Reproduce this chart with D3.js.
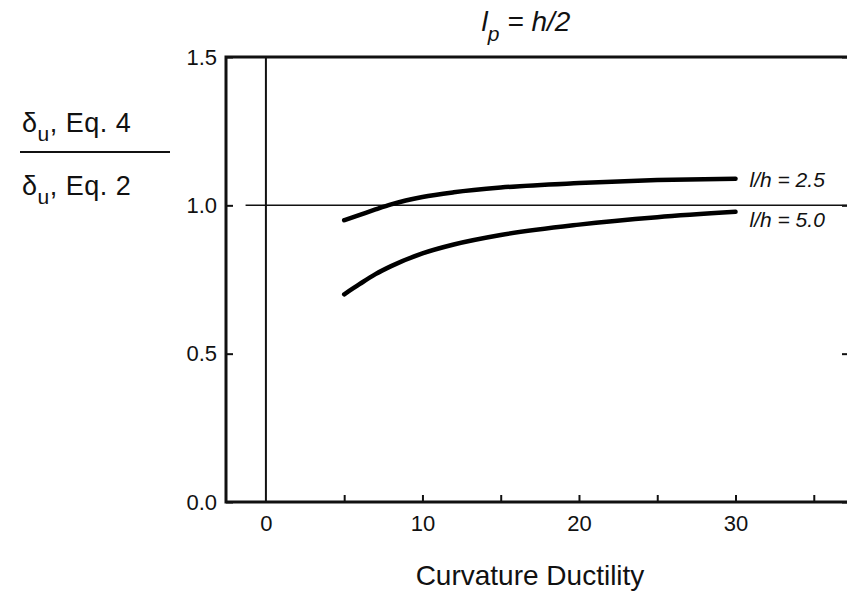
<!DOCTYPE html>
<meta charset="utf-8">
<title>Curvature ductility ratio</title>
<body>
<script src="https://cdn.jsdelivr.net/npm/d3@7"></script>
<style>
html, body {
    margin: 0;
    background: #fff;
}
svg {
    display: block;
    font-family: "Liberation Sans", Arial, sans-serif;
}
</style>
<svg></svg>
<script>
var ductility = [5, 6, 7, 8, 10, 12, 15, 20, 25, 30];
var ratioLh25 = [0.950, 0.968, 0.986, 1.003, 1.028, 1.044, 1.060, 1.075, 1.085, 1.090];
var ratioLh50 = [0.700, 0.735, 0.768, 0.795, 0.838, 0.868, 0.900, 0.935, 0.960, 0.978];
var seriesLabels = ["l/h = 2.5", "l/h = 5.0"];
var xTicks = [0, 5, 10, 15, 20, 25, 30, 35];
var yTicks = [0, 0.5, 1.0, 1.5];

var width = 847,
    height = 594,
    plotLeft = 226,
    plotRight = 849,
    plotTop = 57,
    plotBottom = 502;

var svg = d3.select("svg")
    .attr("width", width)
    .attr("height", height);

var x = d3.scaleLinear().domain([-2.55, 37.25]).range([plotLeft, plotRight]);
var y = d3.scaleLinear().domain([0, 1.5]).range([plotBottom, plotTop]);

function styleAxis(g) {
    g.attr("font-size", 22)
        .attr("font-family", "Liberation Sans, Arial, sans-serif");
    g.select(".domain").remove();
    g.selectAll(".tick line").attr("stroke", "#111").attr("stroke-width", 2);
    g.selectAll(".tick text").attr("fill", "#111");
}

// axes, ticks point inwards
var xAxis = svg.append("g")
    .attr("transform", "translate(0," + plotBottom + ")")
    .call(d3.axisBottom(x)
        .tickValues(xTicks)
        .tickSize(-7)
        .tickPadding(13)
        .tickFormat(function(d) { return d % 10 === 0 ? d : ""; }))
    .call(styleAxis);
xAxis.selectAll(".tick").filter(function(d) { return d === 0; }).select("line").remove();

svg.append("g")
    .attr("transform", "translate(" + plotLeft + ",0)")
    .call(d3.axisLeft(y)
        .tickValues(yTicks)
        .tickSize(-7)
        .tickPadding(9)
        .tickFormat(d3.format(".1f")))
    .call(styleAxis);

svg.append("g")
    .attr("transform", "translate(" + plotRight + ",0)")
    .call(d3.axisRight(y).tickValues(yTicks).tickSize(-7).tickFormat(""))
    .call(styleAxis);

// frame
svg.append("path")
    .attr("d", "M" + [plotRight, y(1.5)] + "L" + [plotLeft, y(1.5)] + "L" + [plotLeft, y(0)] + "L" + [plotRight, y(0)])
    .attr("fill", "none")
    .attr("stroke", "#111")
    .attr("stroke-width", 3);

// reference lines
svg.append("line")
    .attr("x1", x(0)).attr("x2", x(0))
    .attr("y1", y(0)).attr("y2", y(1.5))
    .attr("stroke", "#111")
    .attr("stroke-width", 2);

svg.append("line")
    .attr("x1", x(-1.3)).attr("x2", plotRight)
    .attr("y1", y(1)).attr("y2", y(1))
    .attr("stroke", "#111")
    .attr("stroke-width", 1.5);

// curves
var line = d3.line()
    .x(function(d) { return x(d[0]); })
    .y(function(d) { return y(d[1]); })
    .curve(d3.curveMonotoneX);

[ratioLh25, ratioLh50].forEach(function(vals, i) {
    var pts = d3.zip(ductility, vals);
    svg.append("path")
        .attr("d", line(pts))
        .attr("fill", "none")
        .attr("stroke", "#000")
        .attr("stroke-width", 4.5)
        .attr("stroke-linecap", "round");

    svg.append("text")
        .attr("x", x(30) + 14)
        .attr("y", y(vals[vals.length - 1]) + (i === 0 ? 8 : 15))
        .attr("font-size", 21)
        .attr("font-style", "italic")
        .attr("fill", "#111")
        .text(seriesLabels[i]);
});

// title
var title = svg.append("text")
    .attr("x", 526)
    .attr("y", 31)
    .attr("text-anchor", "middle")
    .attr("font-size", 28)
    .attr("font-style", "italic")
    .attr("fill", "#111");
title.append("tspan").text("l");
title.append("tspan").attr("font-size", 21).attr("dy", 10).text("p");
title.append("tspan").attr("dy", -10).text(" = h/2");

// x axis title
svg.append("text")
    .attr("x", 530)
    .attr("y", 585)
    .attr("text-anchor", "middle")
    .attr("font-size", 28)
    .attr("fill", "#111")
    .text("Curvature Ductility");

// y axis title as a fraction
function delta(yy, eq) {
    var t = svg.append("text")
        .attr("x", 22)
        .attr("y", yy)
        .attr("font-size", 27)
        .attr("letter-spacing", 0.5)
        .attr("fill", "#111");
    t.append("tspan").text("δ");
    t.append("tspan").attr("font-size", 21).attr("dy", 9).text("u");
    t.append("tspan").attr("dy", -9).text(", Eq. " + eq);
}
delta(132, 4);
delta(195, 2);
svg.append("line")
    .attr("x1", 20).attr("x2", 170)
    .attr("y1", 152).attr("y2", 152)
    .attr("stroke", "#111")
    .attr("stroke-width", 2);
</script>
